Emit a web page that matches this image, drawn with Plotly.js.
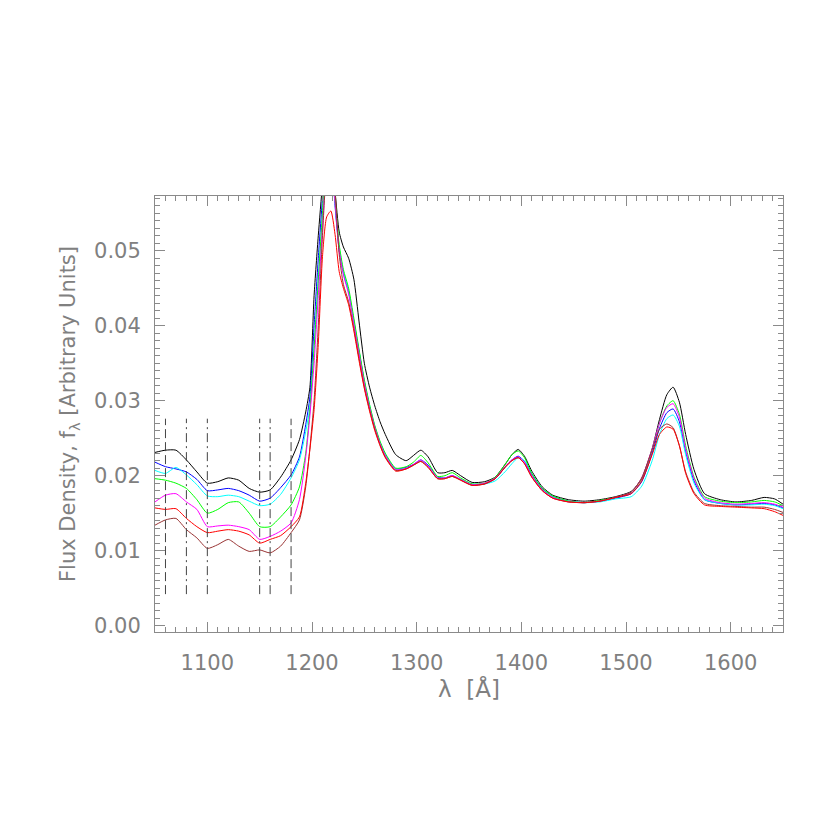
<!DOCTYPE html>
<html>
<head>
<meta charset="utf-8">
<script src="https://cdn.plot.ly/plotly-3.0.1.min.js"></script>
<style>
  html, body { margin: 0; padding: 0; background: #fff; }
  #plot { width: 830px; height: 830px; }
</style>
</head>
<body>
<div id="plot"></div>
<script>
// wavelength grid (Angstrom)
var lam = [1050, 1060, 1070, 1080, 1090, 1100, 1110, 1120, 1130, 1140, 1150, 1160, 1170, 1180,
  1188, 1194, 1198, 1202, 1206, 1210, 1214, 1218, 1222, 1226,
  1230, 1235, 1240, 1245, 1250, 1255, 1260, 1265, 1270,
  1280, 1290, 1297, 1304, 1311, 1320, 1327, 1334, 1342, 1353,
  1365, 1375, 1385, 1391, 1397, 1403, 1410, 1420, 1430,
  1445, 1460, 1475, 1490, 1505, 1515, 1525, 1532, 1539, 1545,
  1551, 1557, 1565, 1575, 1590, 1605, 1620, 1632, 1642, 1650];

var fluxBlack = [0.0231, 0.0234, 0.0234, 0.0221, 0.0205, 0.0190, 0.0192, 0.0197, 0.0194, 0.0183, 0.0178, 0.0181, 0.0198, 0.0221,
  0.0248, 0.0285, 0.0318, 0.0440, 0.0520, 0.0590, 0.0660, 0.0650, 0.0580, 0.0525,
  0.0505, 0.0490, 0.0462, 0.0405, 0.0350, 0.0318, 0.0293, 0.0272, 0.0255,
  0.0228, 0.0220, 0.0227, 0.0234, 0.0225, 0.0204, 0.0204, 0.0207, 0.0200, 0.0191,
  0.0192, 0.0198, 0.0216, 0.0228, 0.0235, 0.0226, 0.0206, 0.0185, 0.0174,
  0.0168, 0.0166, 0.0168, 0.0172, 0.0179, 0.0196, 0.0236, 0.0275, 0.0308, 0.0318,
  0.0298, 0.0255, 0.0208, 0.0176, 0.0168, 0.0165, 0.0167, 0.0171, 0.0169, 0.0162];

var fluxBlue = [0.0218, 0.0212, 0.0209, 0.0205, 0.0195, 0.0180, 0.0181, 0.0183, 0.0180, 0.0174, 0.0166, 0.0170, 0.0184, 0.0201,
  0.0225, 0.0268, 0.0305, 0.0400, 0.0490, 0.0570, 0.0640, 0.0630, 0.0560, 0.0500,
  0.0470, 0.0445, 0.0405, 0.0365, 0.0325, 0.0292, 0.0265, 0.0244, 0.0228,
  0.0209, 0.0211, 0.0215, 0.0221, 0.0214, 0.0198, 0.0197, 0.0200, 0.0195, 0.0188,
  0.0189, 0.0196, 0.0212, 0.0221, 0.0226, 0.0219, 0.0201, 0.0182, 0.0172,
  0.0166, 0.0164, 0.0166, 0.0170, 0.0176, 0.0192, 0.0230, 0.0263, 0.0284, 0.0289,
  0.0272, 0.0232, 0.0193, 0.0168, 0.0163, 0.0161, 0.0162, 0.0163, 0.0161, 0.0157];

var fluxCyan = [0.0207, 0.0203, 0.0211, 0.0201, 0.0188, 0.0173, 0.0172, 0.0174, 0.0172, 0.0166, 0.0160, 0.0162, 0.0175, 0.0197,
  0.0221, 0.0259, 0.0292, 0.0370, 0.0460, 0.0545, 0.0620, 0.0630, 0.0565, 0.0505,
  0.0472, 0.0446, 0.0406, 0.0366, 0.0326, 0.0294, 0.0266, 0.0245, 0.0229,
  0.0209, 0.0210, 0.0214, 0.0220, 0.0213, 0.0197, 0.0197, 0.0199, 0.0195, 0.0189,
  0.0189, 0.0193, 0.0206, 0.0216, 0.0224, 0.0220, 0.0203, 0.0183, 0.0172,
  0.0166, 0.0164, 0.0165, 0.0169, 0.0172, 0.0186, 0.0220, 0.0255, 0.0276, 0.0281,
  0.0266, 0.0228, 0.0190, 0.0168, 0.0163, 0.0161, 0.0161, 0.0162, 0.0160, 0.0156];

var fluxGreen = [0.0196, 0.0194, 0.0190, 0.0183, 0.0168, 0.0150, 0.0155, 0.0164, 0.0165, 0.0150, 0.0132, 0.0132, 0.0145, 0.0161,
  0.0185, 0.0230, 0.0288, 0.0370, 0.0460, 0.0550, 0.0630, 0.0635, 0.0570, 0.0508,
  0.0475, 0.0450, 0.0410, 0.0368, 0.0328, 0.0295, 0.0267, 0.0246, 0.0230,
  0.0210, 0.0212, 0.0218, 0.0227, 0.0217, 0.0199, 0.0200, 0.0204, 0.0197, 0.0189,
  0.0190, 0.0198, 0.0216, 0.0228, 0.0233, 0.0224, 0.0203, 0.0183, 0.0173,
  0.0166, 0.0164, 0.0167, 0.0171, 0.0178, 0.0196, 0.0235, 0.0270, 0.0293, 0.0300,
  0.0282, 0.0240, 0.0198, 0.0172, 0.0166, 0.0164, 0.0165, 0.0167, 0.0165, 0.0160];

var fluxMagenta = [0.0165, 0.0174, 0.0176, 0.0165, 0.0155, 0.0132, 0.0133, 0.0134, 0.0132, 0.0128, 0.0115, 0.0119, 0.0126, 0.0137,
  0.0168, 0.0225, 0.0280, 0.0350, 0.0440, 0.0530, 0.0610, 0.0625, 0.0565, 0.0500,
  0.0468, 0.0442, 0.0402, 0.0362, 0.0323, 0.0291, 0.0264, 0.0243, 0.0227,
  0.0208, 0.0210, 0.0215, 0.0221, 0.0213, 0.0197, 0.0197, 0.0200, 0.0195, 0.0188,
  0.0190, 0.0197, 0.0213, 0.0221, 0.0225, 0.0218, 0.0200, 0.0181, 0.0171,
  0.0165, 0.0164, 0.0166, 0.0171, 0.0178, 0.0197, 0.0236, 0.0270, 0.0291, 0.0296,
  0.0278, 0.0236, 0.0196, 0.0170, 0.0164, 0.0162, 0.0163, 0.0164, 0.0162, 0.0158];

var fluxRed = [0.0157, 0.0155, 0.0156, 0.0143, 0.0132, 0.0124, 0.0126, 0.0128, 0.0126, 0.0121, 0.0110, 0.0115, 0.0120, 0.0132,
  0.0145, 0.0190, 0.0235, 0.0288, 0.0375, 0.0492, 0.0545, 0.0553, 0.0522, 0.0472,
  0.0450, 0.0428, 0.0393, 0.0353, 0.0316, 0.0286, 0.0260, 0.0240, 0.0224,
  0.0206, 0.0209, 0.0214, 0.0219, 0.0211, 0.0196, 0.0196, 0.0199, 0.0194, 0.0187,
  0.0189, 0.0196, 0.0212, 0.0220, 0.0224, 0.0216, 0.0198, 0.0180, 0.0170,
  0.0165, 0.0164, 0.0166, 0.0171, 0.0176, 0.0193, 0.0228, 0.0255, 0.0265, 0.0262,
  0.0240, 0.0203, 0.0176, 0.0161, 0.0159, 0.0158, 0.0157, 0.0156, 0.0152, 0.0147];

var fluxBrown = [0.0134, 0.0141, 0.0143, 0.0128, 0.0117, 0.0103, 0.0108, 0.0115, 0.0106, 0.0099, 0.0101, 0.0097, 0.0106, 0.0124,
  0.0141, 0.0185, 0.0237, 0.0300, 0.0400, 0.0520, 0.0610, 0.0640, 0.0580, 0.0495,
  0.0455, 0.0432, 0.0396, 0.0356, 0.0318, 0.0288, 0.0262, 0.0241, 0.0225,
  0.0207, 0.0209, 0.0214, 0.0219, 0.0211, 0.0196, 0.0196, 0.0199, 0.0194, 0.0187,
  0.0189, 0.0196, 0.0212, 0.0220, 0.0224, 0.0216, 0.0198, 0.0180, 0.0170,
  0.0165, 0.0164, 0.0166, 0.0171, 0.0178, 0.0197, 0.0235, 0.0262, 0.0269, 0.0264,
  0.0240, 0.0205, 0.0178, 0.0163, 0.0160, 0.0159, 0.0158, 0.0158, 0.0155, 0.0151];

// continuum window markers
var markLams = [1060, 1080, 1100, 1150, 1160, 1180];
var markSpan = [0.0042, 0.0276];

var series = [
  {y: fluxBlack, color: '#000000'},
  {y: fluxBlue, color: '#0000ff'},
  {y: fluxCyan, color: '#00ffff'},
  {y: fluxGreen, color: '#00ff00'},
  {y: fluxMagenta, color: '#ff00ff'},
  {y: fluxBrown, color: '#993333'},
  {y: fluxRed, color: '#ff0000'}
];

var data = series.map(function (s) {
  return {
    x: lam, y: s.y, type: 'scatter', mode: 'lines',
    line: {color: s.color, width: 1, shape: 'spline', smoothing: 0.6},
    hoverinfo: 'skip'
  };
});

var longDash = '9px,4px';
var dashDot = '9px,4px,2px,4px';
var markDash = [longDash, dashDot, dashDot, dashDot, dashDot, longDash];

markLams.forEach(function (v, i) {
  data.push({
    x: [v, v], y: markSpan, type: 'scatter', mode: 'lines',
    line: {color: '#444', width: 1, dash: markDash[i]},
    hoverinfo: 'skip'
  });
});

var axisCol = '#8a8a8a';
var fontCol = '#808080';
var fam = '"DejaVu Sans ExtraLight", "DejaVu Sans", sans-serif';

var layout = {
  width: 830, height: 830,
  margin: {l: 155, r: 47, t: 196, b: 198},
  paper_bgcolor: '#fff', plot_bgcolor: '#fff',
  showlegend: false,
  font: {family: fam, color: fontCol, size: 21},
  xaxis: {
    range: [1050, 1650], dtick: 100, tick0: 1000,
    showgrid: false, zeroline: false,
    showline: true, linecolor: axisCol, linewidth: 1, mirror: 'ticks',
    ticks: 'inside', ticklen: 10, tickcolor: axisCol,
    minor: {dtick: 10, ticks: 'inside', ticklen: 5, tickcolor: axisCol},
    tickfont: {family: fam, size: 21, color: fontCol},
    ticklabelstandoff: 12,
    title: {text: 'λ  [Å]', font: {family: fam, size: 23, color: fontCol}, standoff: 6}
  },
  yaxis: {
    range: [-0.00085, 0.0573], dtick: 0.01, tick0: 0, tickformat: '.2f',
    showgrid: false, zeroline: false,
    showline: true, linecolor: axisCol, linewidth: 1, mirror: 'ticks',
    ticks: 'inside', ticklen: 10, tickcolor: axisCol,
    minor: {dtick: 0.001, ticks: 'inside', ticklen: 5, tickcolor: axisCol},
    tickfont: {family: fam, size: 21, color: fontCol},
    ticklabelstandoff: 9,
    title: {text: 'Flux Density, f<sub>λ</sub> [Arbitrary Units]', font: {family: fam, size: 21, color: fontCol}, standoff: 12}
  }
};

Plotly.newPlot('plot', data, layout, {displayModeBar: false, staticPlot: true});
</script>
</body>
</html>
